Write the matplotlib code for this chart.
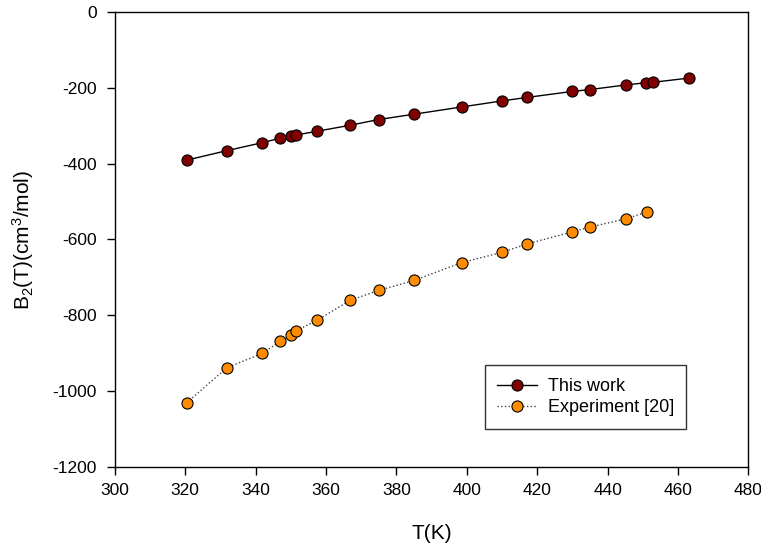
import matplotlib
matplotlib.use("Agg")
import matplotlib.pyplot as plt

plt.rcParams['font.family'] = ['Liberation Sans', 'DejaVu Sans']
plt.rcParams['axes.unicode_minus'] = False
plt.rcParams['mathtext.fontset'] = 'custom'
plt.rcParams['mathtext.rm'] = 'Liberation Sans'
plt.rcParams['mathtext.it'] = 'Liberation Sans:italic'
plt.rcParams['mathtext.bf'] = 'Liberation Sans:bold'

T_this = [320.4, 331.8, 341.9, 347.0, 350.0, 351.4, 357.4, 366.9, 375.0, 385.0,
          398.5, 410.0, 417.0, 430.0, 435.1, 445.1, 451.0, 452.9, 463.0]
B_this = [-391, -366, -345, -333, -328, -325, -315, -299, -284, -270,
          -251, -235, -226, -210, -205, -193, -187, -186, -175]

T_exp = [320.4, 331.8, 341.9, 347.0, 350.0, 351.4, 357.4, 366.9, 375.0, 385.0,
         398.5, 410.0, 417.0, 430.0, 435.1, 445.1, 451.1]
B_exp = [-1030, -938, -900, -868, -852, -841, -813, -760, -734, -708,
         -661, -634, -612, -580, -567, -546, -528]

x_ticks = [300, 320, 340, 360, 380, 400, 420, 440, 460, 480]
y_ticks = [0, -200, -400, -600, -800, -1000, -1200]

fig = plt.figure(figsize=(7.61, 5.46), dpi=100)
ax = fig.add_axes([0.151, 0.1442, 0.8324, 0.8344])

ax.plot(T_this, B_this, '-', color='black', lw=1.0, marker='o', ms=8,
        mfc='#800000', mec='black', mew=0.8, label='This work', zorder=3)
ax.plot(T_exp, B_exp, ':', color='#444444', lw=1.0, marker='o', ms=8,
        mfc='#ff8c00', mec='black', mew=0.8, label='Experiment [20]', zorder=3)

ax.set_xlim(300, 480)
ax.set_ylim(-1200, 0)
ax.set_xticks(x_ticks)
ax.set_yticks(y_ticks)
ax.tick_params(direction='out', length=6, width=1, labelsize=12.5)
ax.tick_params(axis='x', pad=5)
ax.tick_params(axis='y', pad=7)
for s in ax.spines.values():
    s.set_linewidth(1.0)

ax.set_xlabel('T(K)', fontsize=15, labelpad=19)
ax.set_ylabel('B$_2$(T)(cm$^3$/mol)', fontsize=15, labelpad=12)

leg = ax.legend(loc='lower left', bbox_to_anchor=(0.584, 0.084, 0.318, 0.148),
                mode='expand', fontsize=13, frameon=True, fancybox=False,
                edgecolor='black', borderaxespad=0, handlelength=2.2,
                labelspacing=0.25, borderpad=0.7, handletextpad=0.6)
leg.get_frame().set_linewidth(1.0)

fig.savefig('out.png', dpi=100)
